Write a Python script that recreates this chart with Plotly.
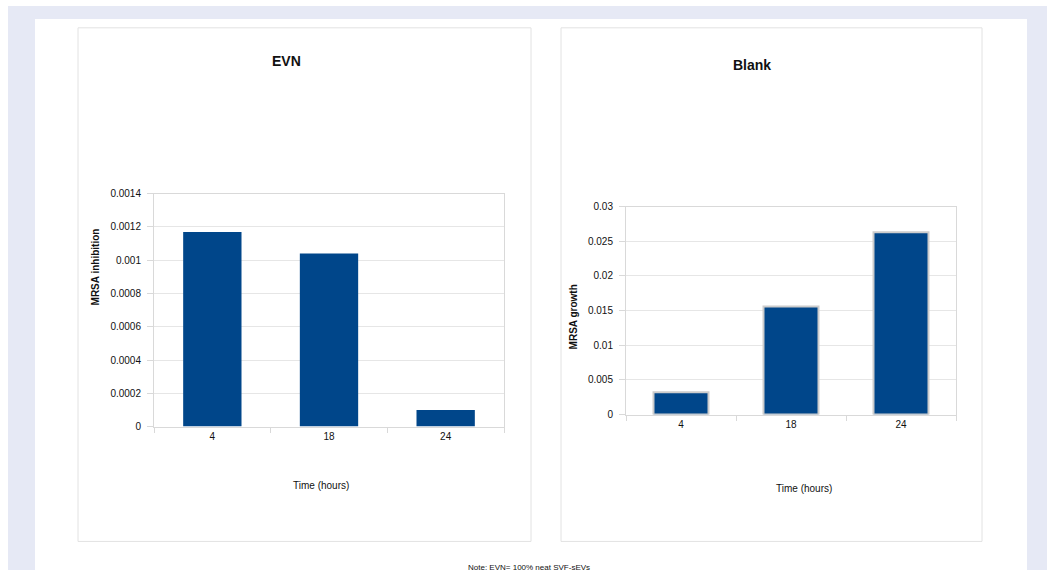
import plotly.graph_objects as go

# Data
time_hours = ["4", "18", "24"]
evn_inhibition = [0.00117, 0.00104, 0.0001]
blank_growth = [0.0032, 0.0156, 0.0263]

evn_tickvals = [0, 0.0002, 0.0004, 0.0006, 0.0008, 0.001, 0.0012, 0.0014]
evn_ticktext = ["0", "0.0002", "0.0004", "0.0006", "0.0008", "0.001", "0.0012", "0.0014"]
blank_tickvals = [0, 0.005, 0.01, 0.015, 0.02, 0.025, 0.03]
blank_ticktext = ["0", "0.005", "0.01", "0.015", "0.02", "0.025", "0.03"]

W, H = 1057, 576
FONT = "Liberation Sans, Arial, sans-serif"
BAR = "#00468a"
GRID = "#e6e6e6"
AXIS = "#d9d9d9"


def px(x):
    return x / W


def py(y):
    return 1 - y / H


fig = go.Figure()

fig.add_trace(go.Bar(x=time_hours, y=evn_inhibition, marker=dict(color=BAR, line=dict(width=0)),
                     xaxis="x", yaxis="y", showlegend=False))
fig.add_trace(go.Bar(x=time_hours, y=blank_growth,
                     marker=dict(color=BAR, line=dict(color="#cccccc", width=2)),
                     xaxis="x2", yaxis="y2", showlegend=False, width=0.5))

common_x = dict(type="category", showline=True, linecolor=AXIS, linewidth=1, mirror=True,
                ticks="outside", tickson="boundaries", ticklen=5, tickcolor=AXIS,
                showgrid=False, tickfont=dict(family=FONT, size=10, color="#111"),
                fixedrange=True)
common_y = dict(showline=True, linecolor=AXIS, linewidth=1, mirror=True,
                ticks="outside", ticklen=6, tickcolor=AXIS, gridcolor=GRID, gridwidth=1,
                zeroline=False, tickfont=dict(family=FONT, size=10, color="#111"),
                ticklabelstandoff=4)

fig.update_layout(
    width=W, height=H,
    margin=dict(l=0, r=0, t=0, b=0),
    paper_bgcolor="white", plot_bgcolor="white",
    bargap=0.5,
    xaxis=dict(domain=[px(154), px(504)], anchor="y", **common_x),
    yaxis=dict(domain=[py(429.5), py(191.7)], anchor="x", range=[0, 0.0014],
               tickvals=evn_tickvals, ticktext=evn_ticktext, **common_y),
    xaxis2=dict(domain=[px(626), px(956)], anchor="y2", **common_x),
    yaxis2=dict(domain=[py(417.2), py(205)], anchor="x2", range=[0, 0.03],
                tickvals=blank_tickvals, ticktext=blank_ticktext, **common_y),
)

# Backgrounds and panel frames
shapes = [
    dict(type="rect", xref="paper", yref="paper", x0=px(8), x1=px(1047), y0=0, y1=1,
         fillcolor="#e6e9f5", line=dict(width=0), layer="below"),
    dict(type="rect", xref="paper", yref="paper", x0=px(35), x1=px(1027), y0=0, y1=py(13.2),
         fillcolor="white", line=dict(width=0), layer="below"),
    dict(type="rect", xref="paper", yref="paper", x0=px(78), x1=px(531), y0=py(546.8), y1=py(22.3),
         fillcolor="white", line=dict(color="#e2e2e2", width=1), layer="below"),
    dict(type="rect", xref="paper", yref="paper", x0=px(561), x1=px(982), y0=py(546.8), y1=py(22.3),
         fillcolor="white", line=dict(color="#e2e2e2", width=1), layer="below"),
]
fig.update_layout(shapes=shapes)


def label(text, x, y, size, bold=False, angle=0):
    return dict(text=f"<b>{text}</b>" if bold else text, x=px(x), y=py(y),
                xref="paper", yref="paper", showarrow=False, textangle=angle,
                xanchor="center", yanchor="middle",
                font=dict(family=FONT, size=size, color="#111"))


fig.update_layout(annotations=[
    label("EVN", 286, 56, 14, bold=True),
    label("Blank", 752, 60, 14, bold=True),
    label("Time (hours)", 321, 489.7, 10),
    label("Time (hours)", 804, 492.8, 10),
    label("MRSA inhibition", 95, 267, 10, bold=True, angle=-90),
    label("MRSA growth", 573, 318, 10, bold=True, angle=-90),
    label("Note: EVN= 100% neat SVF-sEVs", 529, 573, 8),
])

fig.write_html("out.html")
